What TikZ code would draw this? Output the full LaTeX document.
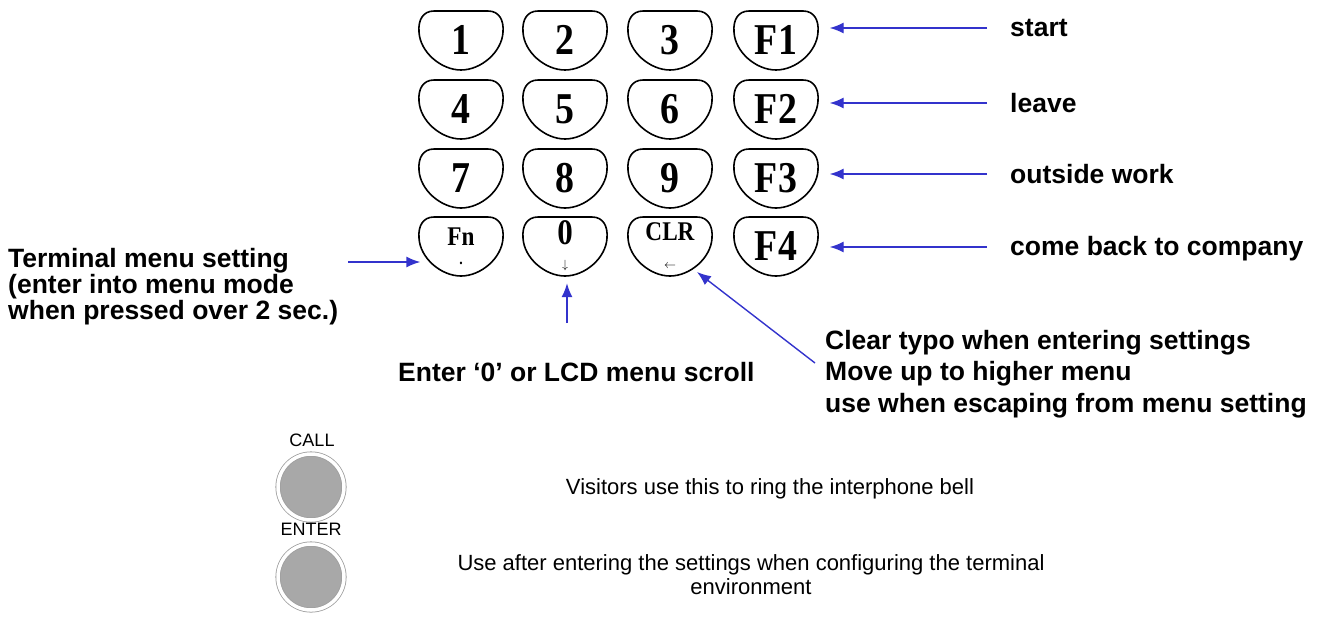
\documentclass[tikz,border=0pt]{standalone}
\usepackage{fontspec}
\setmainfont{Liberation Sans}
\newfontfamily\keyfont[FakeStretch=0.86]{Liberation Serif}

\usetikzlibrary{arrows.meta,positioning}

\definecolor{arrowblue}{rgb}{0.2,0.2,0.8}
\definecolor{btngray}{rgb}{0.66,0.66,0.66}
\definecolor{ringgray}{rgb}{0.62,0.62,0.62}

\tikzset{
  key/.style={minimum width=83pt,minimum height=60pt,inner sep=0pt,align=center,
    font=\keyfont\bfseries\fontsize{44}{44}\selectfont},
  keyline/.style={line width=1.6pt,black},
  pointer/.style={draw=arrowblue,line width=1.4pt,-{Latex[length=14pt,width=11pt]}},
  note/.style={font=\bfseries\fontsize{26.5}{29}\selectfont,inner sep=0pt,align=left},
  hint/.style={font=\fontsize{22}{24}\selectfont,inner sep=0pt,align=center},
  btnlabel/.style={font=\fontsize{18}{18}\selectfont,inner sep=0pt},
  button/.style={circle,minimum size=66pt,inner sep=0pt,fill=btngray,draw=ringgray,
    line width=0.8pt,double=white,double distance=3.5pt},
}

\begin{document}
\begin{tikzpicture}[x=1pt,y=-1pt]
%
\useasboundingbox (0,0) rectangle (1327,643);
%
% keypad
\node[key] (K1)  at (461,40)  {1};
\node[key] (K2)  at (565,40)  {2};
\node[key] (K3)  at (670,40)  {3};
\node[key] (KF1) at (776,40)  {F1};
\node[key] (K4)  at (461,109) {4};
\node[key] (K5)  at (565,109) {5};
\node[key] (K6)  at (670,109) {6};
\node[key] (KF2) at (776,109) {F2};
\node[key] (K7)  at (461,178) {7};
\node[key] (K8)  at (565,178) {8};
\node[key] (K9)  at (670,178) {9};
\node[key] (KF3) at (776,178) {F3};
\node[key] (KFn) at (461,246) {\fontsize{27}{27}\selectfont Fn\\[-25pt]\fontsize{16}{16}\selectfont .};
\node[key] (K0)  at (565,246) {\fontsize{36}{36}\selectfont 0\\[-20pt]\fontsize{13}{13}\selectfont$\downarrow$};
\node[key] (KCLR) at (670,246) {\fontsize{27}{27}\selectfont CLR\\[-16pt]\fontsize{13}{13}\selectfont$\leftarrow$};
\node[key] (KF4) at (776,246) {F4};
%
\foreach \k in {K1,K2,K3,KF1,K4,K5,K6,KF2,K7,K8,K9,KF3,KFn,K0,KCLR,KF4}
  \draw[keyline,shift={(\k.center)}] (-27,-29) -- (27,-29)
    .. controls (38,-29) and (43,-20) .. (42,-8)
    .. controls (41,12) and (20,30) .. (0,30)
    .. controls (-20,30) and (-41,12) .. (-42,-8)
    .. controls (-43,-20) and (-38,-29) .. (-27,-29) -- cycle;
%
% function keys
\coordinate (tStart) at (987,28);
\coordinate (tLeave) at (987,103);
\coordinate (tOut)   at (987,174);
\coordinate (tBack)  at (987,247);
\draw[pointer,shorten >=12pt] (tStart) -- (tStart -| KF1.east);
\draw[pointer,shorten >=12pt] (tLeave) -- (tLeave -| KF2.east);
\draw[pointer,shorten >=12pt] (tOut)   -- (tOut -| KF3.east);
\draw[pointer,shorten >=12pt] (tBack)  -- (tBack -| KF4.east);
\node[note,anchor=base west] (lStart) at (1010,36)  {start};
\node[note,anchor=base west] (lLeave) at (1010,112) {leave};
\node[note,anchor=base west] (lOut)   at (1010,183) {outside work};
\node[note,anchor=base west] (lBack)  at (1010,255) {come back to company};
%
% Fn, 0, CLR
\node[note,anchor=north west,font=\bfseries\fontsize{26.5}{26}\selectfont] (lFn) at (8,248)
  {Terminal menu setting\\(enter into menu mode\\when pressed over 2 sec.)};
\coordinate (tFn) at (348,262);
\draw[pointer,shorten >=-1pt] (tFn) -- (tFn -| KFn.west);
%
\node[note,anchor=base west] (lZero) at (398,381) {Enter ‘0’ or LCD menu scroll};
\coordinate (tZero) at (567,323);
\draw[pointer,shorten >=7pt] (tZero) -- (tZero |- K0.south);
%
\node[note,anchor=north west,font=\bfseries\fontsize{26.5}{31.5}\selectfont] (lClr) at (825,330)
  {Clear typo when entering settings\\Move up to higher menu\\use when escaping from menu setting};
\coordinate (tClr) at (815,363);
\draw[pointer] (tClr) -- ([shift={(27,26)}]KCLR.center);
%
% buttons
\node[btnlabel] (lCall) at (312,440) {CALL};
\node[button] (call) at (311,487) {};
\node[btnlabel] (lEnter) at (311,529) {ENTER};
\node[button] (enter) at (311,577) {};
\node[hint,anchor=base] (hCall) at (770,494) {Visitors use this to ring the interphone bell};
\node[hint,anchor=north] (hEnter) at (751,554)
  {Use after entering the settings when configuring the terminal\\environment};
%
\end{tikzpicture}
\end{document}
